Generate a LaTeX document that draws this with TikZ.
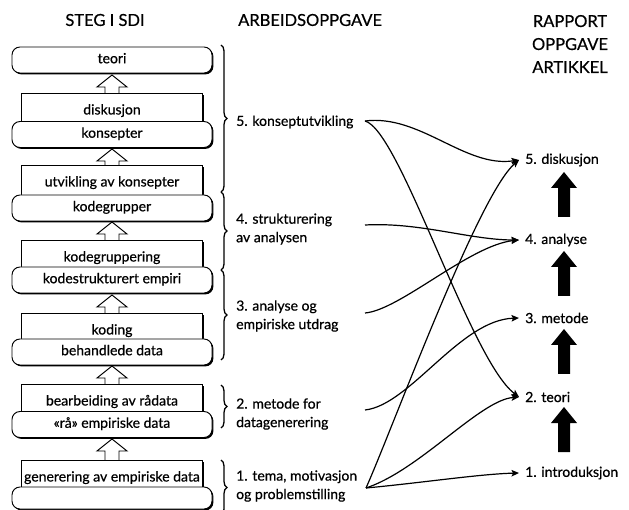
\documentclass[tikz,border=0pt]{standalone}
\usepackage{fontspec}
\setmainfont{Lato}[FakeBold=0.6]
\usetikzlibrary{decorations.pathreplacing,shadows,arrows.meta}
\begin{document}
\begin{tikzpicture}[x=1pt,y=-1pt,
  font=\fontsize{14}{18.5}\selectfont,
  lw/.style={line width=0.95pt},
  shad/.style={drop shadow={shadow xshift=1.4pt,shadow yshift=-1.4pt,opacity=1,fill=black}},
  rbox/.style={lw,draw,fill=white,rounded corners=8pt,minimum width=200pt,minimum height=26pt,
    inner sep=0pt,text height=9.5pt,text depth=3pt,shad},
  sbox/.style={lw,draw,fill=white,minimum width=181pt,inner ysep=0pt,inner xsep=1pt,
    text height=21pt,text depth=24pt,anchor=north,shad},
  brc/.style={decorate,decoration={brace,amplitude=6pt},line width=1.3pt},
  mtxt/.style={anchor=west,align=left,inner sep=0pt},
  rtxt/.style={anchor=west,inner xsep=6pt},
  head/.style={font=\fontsize{16.5}{23}\selectfont,align=center},
  con/.style={line width=1.2pt,-{Stealth[length=7.5pt,width=6.5pt,inset=1.5pt]}},
  hollow/.pic={\draw[lw,fill=white] (-7,26) -- (-7,12) -- (-15,12) -- (0,0) -- (15,12) -- (7,12) -- (7,26);},
  bigup/.pic={\fill[black] (-6,0) -- (-6,-29) -- (-13,-29) -- (0,-45) -- (13,-29) -- (6,-29) -- (6,0) -- cycle;}
]
\clip (0,0) rectangle (629,510);
\fill[white] (0,0) rectangle (629,510);

% headers
\node[head] (h1) at (105,20) {STEG I SDI};
\node[head,anchor=west,inner xsep=0pt] (h2) at (238,20) {ARBEIDSOPPGAVE};
\node[head] (h3) at (570,44) {RAPPORT\\OPPGAVE\\ARTIKKEL};

% hollow arrows
\pic at (112,75) {hollow};
\pic at (112,149) {hollow};
\pic at (112,222) {hollow};
\pic at (112,295) {hollow};
\pic at (112,366) {hollow};
\pic at (112,439) {hollow};

% step boxes
\node[sbox] (s1) at (112,93) {diskusjon};
\node[sbox] (s2) at (112,165) {utvikling av konsepter};
\node[sbox] (s3) at (112,240) {kodegruppering};
\node[sbox] (s4) at (112,313) {koding};
\node[sbox] (s5) at (112,384) {bearbeiding av rådata};
\node[sbox] (s6) at (112,460) {generering av empiriske data};

% rounded boxes
\node[rbox] (r1) at (112,60) {teori};
\node[rbox] (r2) at (112,134.5) {konsepter};
\node[rbox] (r3) at (112,208) {kodegrupper};
\node[rbox] (r4) at (112,280) {kodestrukturert empiri};
\node[rbox] (r5) at (112,352) {behandlede data};
\node[rbox] (r6) at (112,424.5) {«rå» empiriske data};
\node[rbox,minimum height=22pt] (r7) at (112,498) {};

% braces
\draw[brc] (221,45) -- (221,192);
\draw[brc] (221,192) -- (221,270);
\draw[brc] (221,270) -- (221,360);
\draw[brc] (221,385) -- (221,428);
\draw[brc] (221,460) -- (221,515);

% middle texts
\node[mtxt] (m5) at (236,122) {5. konseptutvikling};
\node[mtxt] (m4) at (236,229) {4. strukturering\\av analysen};
\node[mtxt] (m3) at (236,316) {3. analyse og\\empiriske utdrag};
\node[mtxt] (m2) at (236,414) {2. metode for\\datagenerering};
\node[mtxt] (m1) at (236,486) {1. tema, motivasjon\\og problemstilling};

% right texts
\node[rtxt] (d5) at (519,160) {5. diskusjon};
\node[rtxt] (d4) at (519,240) {4. analyse};
\node[rtxt] (d3) at (519,318) {3. metode};
\node[rtxt] (d2) at (519,397) {2. teori};
\node[rtxt] (d1) at (519,473) {1. introduksjon};

% big arrows
\pic at (564,217) {bigup};
\pic at (564,296) {bigup};
\pic at (564,374) {bigup};
\pic at (564,452) {bigup};

% connector start points
\coordinate (c5) at (365,121);
\coordinate (c4) at (365,225);
\coordinate (c3) at (365,313);
\coordinate (c2) at (365,410);
\coordinate (c1) at (366,488);

\draw[con] (c5) .. controls (420,114) and (465,168) .. (d5.west);
\draw[con] (c5) .. controls (400,130) and (470,360) .. (d2.west);
\draw[con] (c4) .. controls (420,222) and (470,240) .. (d4.west);
\draw[con] (c3) .. controls (400,310) and (470,245) .. (d4.west);
\draw[con] (c2) .. controls (410,405) and (460,320) .. (d3.west);
\draw[con] (c1) .. controls (392,430) and (478,195) .. (d5.west);
\draw[con] (c1) .. controls (420,470) and (480,400) .. (d2.west);
\draw[con] (c1) .. controls (420,483) and (480,474) .. (d1.west);
\end{tikzpicture}
\end{document}
